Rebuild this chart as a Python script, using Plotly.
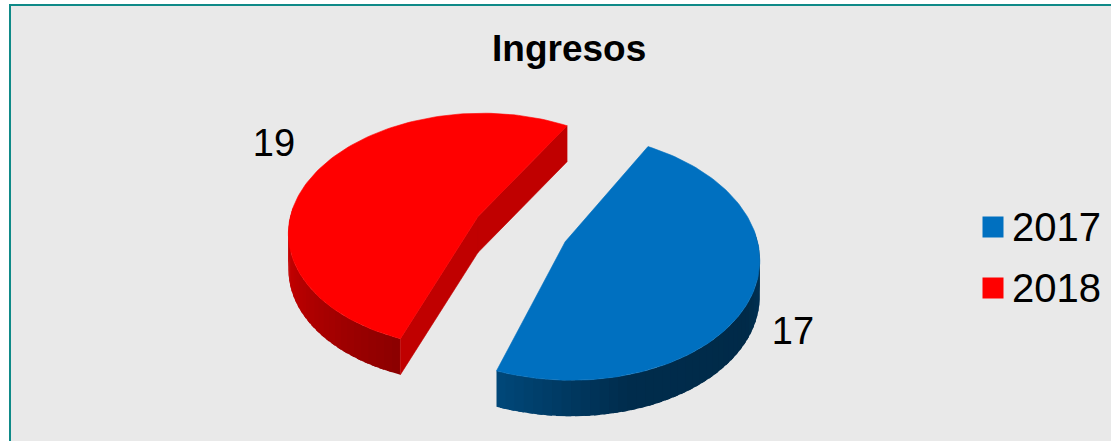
import numpy as np
import plotly.graph_objects as go

# Data
categories = ["2017", "2018"]
values = [17, 19]
title_text = "Ingresos"

# Projection of the tilted pie (pixel space of the hidden axes)
W, H = 1111, 441
X0, Y0 = 521, 229
A, B, K = 190, 118.5, 0.12
EXPLODE = 0.253
DEPTH = 36
START_DEG = 30


def project(u, v, drop=0.0):
    s = 1 / (1 + K * v)
    return X0 + A * u * s, Y0 - B * v * s + drop


def blend(stops, t):
    ts = [p[0] for p in stops]
    rgb = [np.interp(t, ts, [p[1][i] for p in stops]) for i in range(3)]
    return "rgb({:.0f},{:.0f},{:.0f})".format(*rgb)


def poly(fig, x, y, color, line_width=0.6):
    fig.add_trace(go.Scatter(
        x=list(x), y=list(y), mode="lines", fill="toself", fillcolor=color,
        line=dict(color=color, width=line_width), hoverinfo="skip", showlegend=False))


total = sum(values)
spans = [v / total * 360 for v in values]
a0 = START_DEG
sectors = []
for c, span in zip(categories, spans):
    sectors.append((c, a0, a0 + span))
    a0 += span

styles = {
    "2017": dict(top="#0070C0", face=None,
                 wall=[(90, (0, 54, 92)), (120, (0, 42, 72)), (165, (0, 44, 76)), (200, (0, 72, 122))]),
    "2018": dict(top="#FF0000", face="#C00000",
                 wall=[(200, (139, 0, 0)), (225, (165, 0, 0)), (250, (190, 0, 0)), (275, (204, 0, 0))]),
}

fig = go.Figure()
for c, a1, a2 in reversed(sectors):
    st = styles[c]
    mid = np.radians((a1 + a2) / 2)
    ou, ov = EXPLODE * np.sin(mid), EXPLODE * np.cos(mid)
    pt = lambda deg, drop=0.0: project(ou + np.sin(np.radians(deg)), ov + np.cos(np.radians(deg)), drop)

    # outer wall (only the part facing the viewer), as overlapping strips for the gradient
    lo, hi = max(a1, 85), min(a2, 275)
    edges = np.arange(lo, hi, 2.5)
    for d1 in edges:
        d2 = min(d1 + 4.0, hi)
        ds = np.linspace(d1, d2, 5)
        up = [pt(d) for d in ds]
        dn = [pt(d, DEPTH) for d in ds[::-1]]
        p = up + dn + [up[0]]
        poly(fig, [q[0] for q in p], [q[1] for q in p], blend(st["wall"], d1 + 1.25), line_width=0)

    # radial cut faces (only the slice whose cuts face the viewer)
    centre, centre_low = project(ou, ov), project(ou, ov, DEPTH)
    if st["face"]:
        for d in (a1, a2):
            p = [centre, pt(d), pt(d, DEPTH), centre_low, centre]
            poly(fig, [q[0] for q in p], [q[1] for q in p], st["face"])

    # top face
    arc = np.linspace(a1, a2, 120)
    tx, ty = zip(*[pt(d) for d in arc])
    poly(fig, (centre[0],) + tx + (centre[0],), (centre[1],) + ty + (centre[1],), st["top"])

# Data labels
label_xy = {"2017": (793, 334), "2018": (274, 146)}
for c, v in zip(categories, values):
    fig.add_trace(go.Scatter(
        x=[label_xy[c][0]], y=[label_xy[c][1]], mode="text", text=[str(v)], textposition="middle center",
        textfont=dict(family="Liberation Sans", size=38, color="#000000"),
        hoverinfo="skip", showlegend=False))

# Legend (drawn with markers so the swatch size can match)
legend_y = {"2017": 227, "2018": 288}
for c in categories:
    fig.add_trace(go.Scatter(
        x=[993], y=[legend_y[c]], mode="markers",
        marker=dict(symbol="square", size=21, color=styles[c]["top"]),
        hoverinfo="skip", showlegend=False))
    fig.add_annotation(x=1012, y=legend_y[c], text=c, showarrow=False, xanchor="left", yanchor="middle",
                       xshift=-2, font=dict(family="Liberation Sans", size=40, color="#000000"))

fig.add_annotation(x=569, y=48, text="<b>" + title_text + "</b>", showarrow=False,
                   font=dict(family="Liberation Sans", size=37, color="#000000"))

fig.update_layout(
    width=W, height=H, margin=dict(l=0, r=0, t=0, b=0), autosize=False,
    paper_bgcolor="#FFFFFF", plot_bgcolor="rgba(0,0,0,0)", showlegend=False,
    xaxis=dict(range=[0, W], visible=False, fixedrange=True),
    yaxis=dict(range=[H, 0], visible=False, fixedrange=True),
    shapes=[dict(type="rect", xref="x", yref="y", x0=10, y0=5, x1=W + 20, y1=H + 20, layer="below",
                 fillcolor="#E9E9E9", line=dict(color="#0F8A88", width=2))],
)
fig.write_html("out.html", config=dict(displayModeBar=False),
               post_script="document.body.style.margin='0';document.body.style.overflow='hidden';")
